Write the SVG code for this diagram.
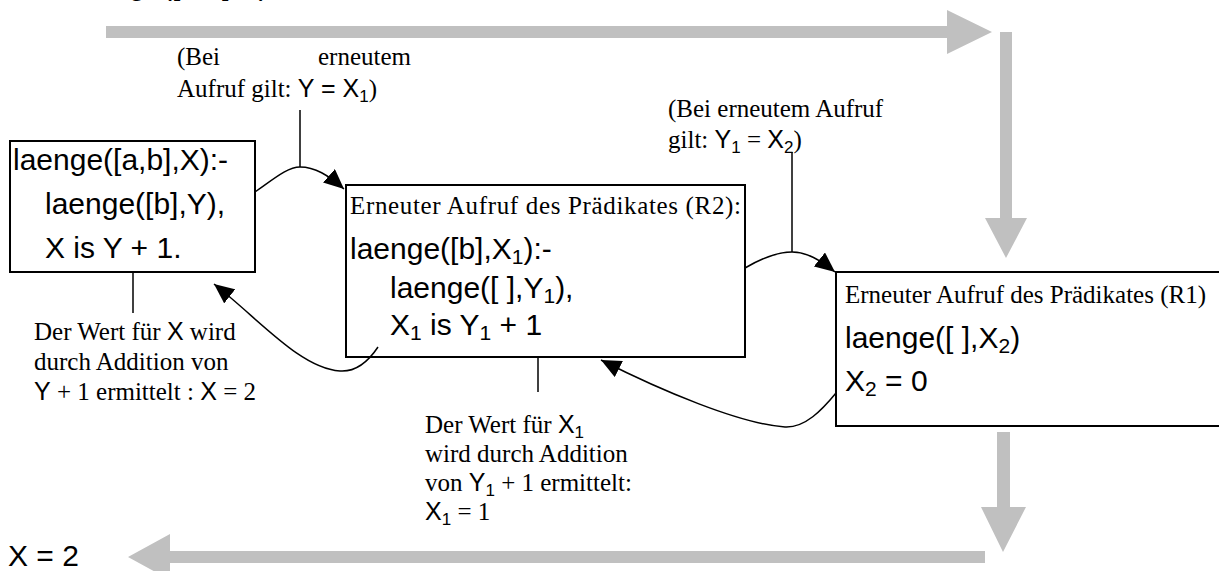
<svg xmlns="http://www.w3.org/2000/svg" width="1219" height="571" viewBox="0 0 1219 571">
<style>
.a{font-family:"Liberation Sans",Arial,sans-serif;font-size:30px;fill:#000}
.t{font-family:"Liberation Serif","Times New Roman",serif;font-size:25px;fill:#000}
.s{font-family:"Liberation Sans",Arial,sans-serif}
.box{fill:#fff;stroke:#000;stroke-width:2}
.ln{fill:none;stroke:#000;stroke-width:1.5}
.gray{fill:#c0c0c0;stroke:none}
</style>
<defs>
<marker id="ah" markerUnits="userSpaceOnUse" markerWidth="22" markerHeight="18" refX="20" refY="9" orient="auto">
<path d="M0,0 L20,9 L0,18 Z" fill="#000"/>
</marker>
</defs>
<rect width="1219" height="571" fill="#fff"/>
<text class="a" x="72" y="-5">laenge([a,b],X)</text>
<g id="flow">
<path class="gray" d="M106,26 H947 V10 L992,32 L947,54 V38 H106 Z"/>
<path class="gray" d="M1000,32 H1012 V218 H1027 L1006,258 L985,218 H1000 Z"/>
<path class="gray" d="M997,432 H1010 V507 H1026 L1003,552 L981,507 H997 Z"/>
<path class="gray" d="M985,551 V563 H170 V580 L128,557 L170,534 V551 Z"/>
</g>
<g id="n1">
<rect class="box" x="10" y="141" width="245" height="131"/>
<text class="a" x="13" y="170">laenge([a,b],X):-</text>
<text class="a" x="45" y="214">laenge([b],Y),</text>
<text class="a" x="45" y="258">X is Y + 1.</text>
</g>
<g id="n2">
<rect class="box" x="346" y="185" width="399" height="172"/>
<text class="t" x="350" y="214" textLength="391" lengthAdjust="spacing">Erneuter Aufruf des Prädikates (R2):</text>
<text class="a" x="350" y="259">laenge([b],X<tspan font-size="21" dy="5">1</tspan><tspan dy="-5">):-</tspan></text>
<text class="a" x="390" y="298">laenge([ ],Y<tspan font-size="21" dy="5">1</tspan><tspan dy="-5">),</tspan></text>
<text class="a" x="390" y="335">X<tspan font-size="21" dy="5">1</tspan><tspan dy="-5"> is Y</tspan><tspan font-size="21" dy="5">1</tspan><tspan dy="-5"> + 1</tspan></text>
</g>
<g id="n3">
<rect class="box" x="836" y="272" width="390" height="154"/>
<text class="t" x="845" y="303">Erneuter Aufruf des Prädikates (R1)</text>
<text class="a" x="845" y="348">laenge([ ],X<tspan font-size="21" dy="5">2</tspan><tspan dy="-5">)</tspan></text>
<text class="a" x="845" y="391">X<tspan font-size="21" dy="5">2</tspan><tspan dy="-5"> = 0</tspan></text>
</g>
<g id="labels">
<text class="t" x="177" y="65">(Bei</text>
<text class="t" x="318" y="65">erneutem</text>
<text class="t" x="177" y="97">Aufruf gilt: <tspan class="s">Y = X</tspan><tspan class="s" font-size="17" dy="5">1</tspan><tspan dy="-5">)</tspan></text>
<text class="t" x="668" y="117">(Bei erneutem Aufruf</text>
<text class="t" x="668" y="148">gilt: <tspan class="s">Y</tspan><tspan class="s" font-size="17" dy="5">1</tspan><tspan dy="-5"> = </tspan><tspan class="s">X</tspan><tspan class="s" font-size="17" dy="5">2</tspan><tspan dy="-5">)</tspan></text>
<text class="t" x="34" y="340">Der Wert für <tspan class="s">X</tspan> wird</text>
<text class="t" x="34" y="370">durch Addition von</text>
<text class="t" x="34" y="400"><tspan class="s">Y</tspan> + 1 ermittelt : <tspan class="s">X</tspan> = 2</text>
<text class="t" x="425" y="433">Der Wert für <tspan class="s">X</tspan><tspan class="s" font-size="17" dy="5">1</tspan></text>
<text class="t" x="425" y="462">wird durch Addition</text>
<text class="t" x="425" y="491">von <tspan class="s">Y</tspan><tspan class="s" font-size="17" dy="5">1</tspan><tspan dy="-5"> + 1 ermittelt:</tspan></text>
<text class="t" x="425" y="520"><tspan class="s">X</tspan><tspan class="s" font-size="17" dy="5">1</tspan><tspan dy="-5"> = 1</tspan></text>
<text class="a" x="8" y="566" font-size="28">X = 2</text>
</g>
<g id="connectors">
<line class="ln" x1="300" y1="110" x2="300" y2="167"/>
<path class="ln" d="M255,192 C275,178 288,167 300,167 C315,167 328,175 344,189" marker-end="url(#ah)"/>
<line class="ln" x1="792" y1="152" x2="792" y2="252"/>
<path class="ln" d="M745,268 C762,258 778,252 792,252 C807,252 820,260 835,272" marker-end="url(#ah)"/>
<line class="ln" x1="133" y1="272" x2="133" y2="313"/>
<line class="ln" x1="538" y1="357" x2="538" y2="392"/>
<path class="ln" d="M378,347 C368,362 355,372 340,371 C300,368 260,320 214,284" marker-end="url(#ah)"/>
<path class="ln" d="M836,393 C822,410 805,428 785,427 C740,424 660,390 601,360" marker-end="url(#ah)"/>
</g>
</svg>
